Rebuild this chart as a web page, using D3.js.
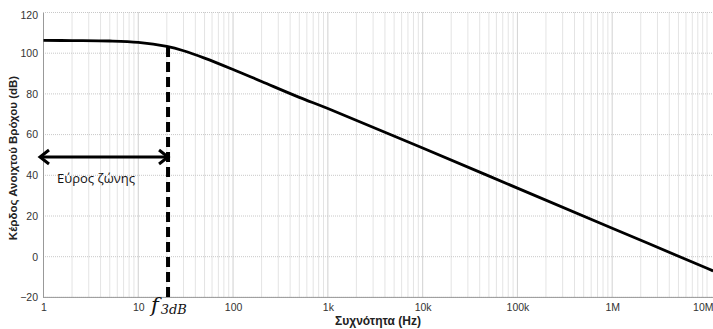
<!DOCTYPE html>
<meta charset="utf-8">
<style>
body { margin: 0; background: #fff; }
text { font-family: "Liberation Sans", Arial, sans-serif; }
.tick text { font-size: 10.5px; fill: #333; }
.grid line { stroke: #c8c8c8; stroke-dasharray: 1,1; stroke-width: 1px; }
.axis-title { font-size: 11.5px; font-weight: bold; fill: #222; }
</style>
<svg width="713" height="329"></svg>
<script src="https://d3js.org/d3.v7.min.js"></script>
<script>

// gain curve (Hz, dB)
var freq = [1, 2, 5, 10, 20, 30, 50, 100, 200, 500, 1e3, 1e4, 1e5, 1e6, 1e7, 1.16e7];
var gain = [106.3, 106.2, 106, 105.3, 103.3, 101.2, 97.6, 92, 86.1, 78.3, 72.8, 53.4, 33.7, 14, -5.7, -7];

var xTicks = [1, 10, 100, 1e3, 1e4, 1e5, 1e6, 1e7];
var xTickLabels = ["1", "10", "100", "1k", "10k", "100k", "1M", "10M"];
var yTicks = [-20, 0, 20, 40, 60, 80, 100, 120];

var f3dB = 20.6;     // Hz, corner frequency
var bandArrowY = 49; // dB level of the bandwidth arrow

var svg = d3.select("svg");

var x = d3.scaleLog().domain([1, 1e7]).range([43.5, 707]);
var y = d3.scaleLinear().domain([-20, 120]).range([297.4, 12.5]);

// minor grid
var minor = [];
for (var d = 1; d < 1e7; d *= 10)
  for (var k = 1; k <= 10; k++) minor.push(d * k);

svg.append("g").attr("class", "grid")
  .selectAll("line").data(minor).enter().append("line")
    .attr("x1", function(d) { return x(d); })
    .attr("x2", function(d) { return x(d); })
    .attr("y1", y(120)).attr("y2", y(-20));

svg.append("g").attr("class", "grid")
  .selectAll("line").data(yTicks).enter().append("line")
    .attr("x1", 43).attr("x2", 713)
    .attr("y1", function(d) { return y(d); })
    .attr("y2", function(d) { return y(d); });

// axes
var xAxis = d3.axisBottom(x).tickValues(xTicks).tickSize(0).tickPadding(6)
  .tickFormat(function(d, i) { return xTickLabels[i]; });
var gx = svg.append("g").attr("transform", "translate(0," + y(-20) + ")").call(xAxis);
gx.select(".domain").attr("stroke", "#999").attr("d", "M43,0H713");
gx.selectAll(".tick text").filter(function(d) { return d === 1e7; }).attr("text-anchor", "end").attr("dx", "6");

var yAxis = d3.axisLeft(y).tickValues(yTicks).tickSize(0).tickPadding(5);
var gy = svg.append("g").attr("transform", "translate(43,0)").call(yAxis);
gy.select(".domain").attr("stroke", "#999");
gy.selectAll(".tick text").filter(function(d) { return d === 120; }).attr("dy", "0.6em");

svg.append("text").attr("class", "axis-title")
  .attr("transform", "translate(17,158) rotate(-90)")
  .attr("text-anchor", "middle")
  .text("Κέρδος Ανοιχτού Βρόχου (dB)");

svg.append("text").attr("class", "axis-title")
  .attr("x", 378).attr("y", 325)
  .attr("text-anchor", "middle")
  .style("font-size", "12px")
  .text("Συχνότητα (Hz)");

// gain curve
var pts = freq.map(function(f, i) { return [f, gain[i]]; });
var line = d3.line()
  .x(function(d) { return x(d[0]); })
  .y(function(d) { return y(d[1]); })
  .curve(d3.curveCatmullRom);

svg.append("path").datum(pts)
  .attr("d", line)
  .attr("fill", "none")
  .attr("stroke", "#000")
  .attr("stroke-width", 2.8);

// f3dB dashed marker
svg.append("line")
  .attr("x1", x(f3dB)).attr("x2", x(f3dB))
  .attr("y1", y(103)).attr("y2", y(-20))
  .attr("stroke", "#000").attr("stroke-width", 4)
  .attr("stroke-dasharray", "10,5");

// bandwidth arrow
var ay = y(bandArrowY), ax0 = 40, ax1 = x(f3dB);
svg.append("line")
  .attr("x1", ax0 + 1).attr("x2", ax1 - 1).attr("y1", ay).attr("y2", ay)
  .attr("stroke", "#000").attr("stroke-width", 3);
svg.append("path")
  .attr("d", "M" + (ax0 + 9) + "," + (ay - 7) + "L" + ax0 + "," + ay + "L" + (ax0 + 9) + "," + (ay + 7) +
             "M" + (ax1 - 9) + "," + (ay - 7) + "L" + ax1 + "," + ay + "L" + (ax1 - 9) + "," + (ay + 7))
  .attr("fill", "none").attr("stroke", "#000").attr("stroke-width", 3)
  .attr("stroke-linejoin", "miter");

svg.append("text")
  .attr("x", 57).attr("y", 183)
  .style("font-family", "'Open Sans', sans-serif")
  .style("font-size", "13px")
  .attr("fill", "#111")
  .text("Εύρος ζώνης");

var ft = svg.append("text")
  .attr("x", 151).attr("y", 312)
  .style("font-family", "'DejaVu Serif', serif")
  .style("font-style", "italic")
  .attr("fill", "#111");
ft.append("tspan").style("font-size", "21px").text("f");
ft.append("tspan").style("font-size", "13px").attr("dx", 2).attr("dy", 2).text("3dB");

</script>
